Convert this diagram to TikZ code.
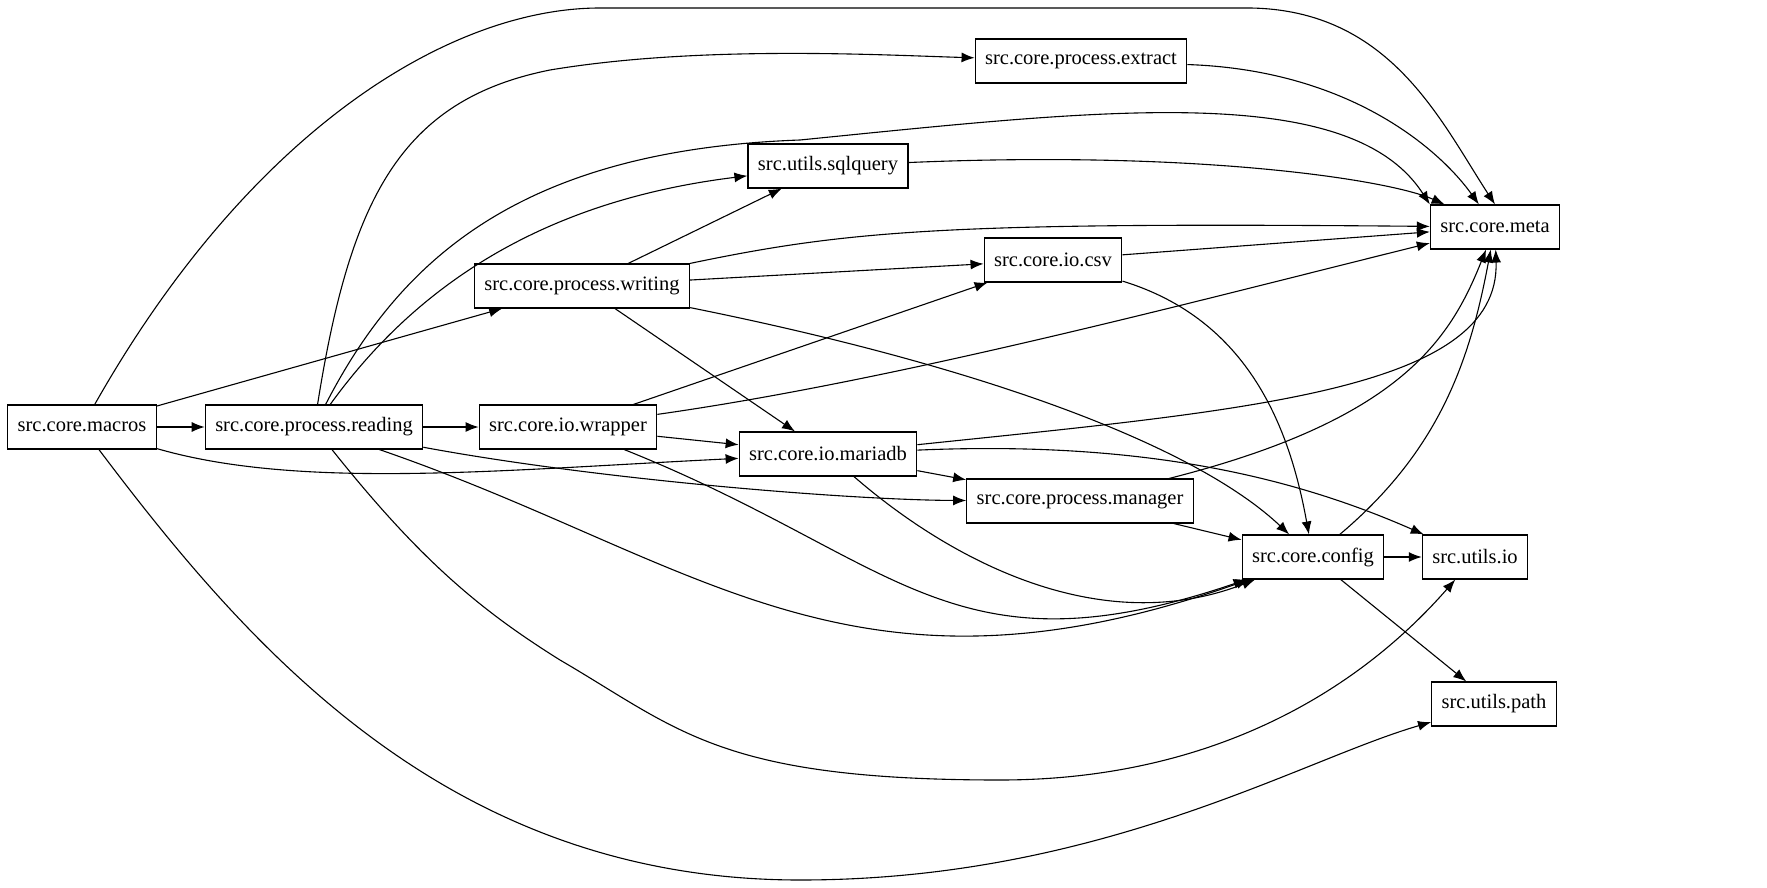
\documentclass[tikz,border=0pt]{standalone}
\usepackage{fontspec}
\setmainfont{Liberation Serif}
\usetikzlibrary{arrows.meta, positioning}

\begin{document}
\begin{tikzpicture}[
		x=1pt, y=-1pt,
		mod/.style={draw, line width=1.1pt, minimum height=44pt, inner xsep=10pt,
				font=\fontsize{20.5}{22}\selectfont},
		dep/.style={line width=1.1pt, -{Latex[length=13pt,width=10pt]}}
	]
	\useasboundingbox (0,0) rectangle (1767,888);

	\node[mod] (macros) at (82,427) {src.core.macros};
	\node[mod] (reading) at (314,427) {src.core.process.reading};
	\node[mod] (wrapper) at (568,427) {src.core.io.wrapper};
	\node[mod] (writing) at (582,286) {src.core.process.writing};
	\node[mod] (sqlquery) at (828,166) {src.utils.sqlquery};
	\node[mod] (extract) at (1081,61) {src.core.process.extract};
	\node[mod] (csv) at (1053,260) {src.core.io.csv};
	\node[mod] (mariadb) at (828,454) {src.core.io.mariadb};
	\node[mod] (manager) at (1080,501) {src.core.process.manager};
	\node[mod] (config) at (1313,557) {src.core.config};
	\node[mod] (meta) at (1495,227) {src.core.meta};
	\node[mod] (io) at (1475,557) {src.utils.io};
	\node[mod] (path) at (1494,704) {src.utils.path};

	% macros
	\draw[dep] (macros) .. controls (250,130) and (450,8) .. (600,8)
		-- (1250,8) .. controls (1390,10) and (1440,120) .. (meta.north);
	\draw[dep] (macros) -- (reading);
	\draw[dep] (macros) -- (writing);
	\draw[dep] (macros) .. controls (300,490) and (500,470) .. (mariadb);
	\draw[dep] (macros) .. controls (250,650) and (450,880) .. (800,880)
		.. controls (1100,880) and (1300,760) .. (path);

	% reading
	\draw[dep] (reading) .. controls (350,200) and (400,100) .. (550,70)
		.. controls (700,45) and (880,55) .. (extract);
	\draw[dep] (reading) .. controls (400,260) and (520,150) .. (800,140)
		.. controls (1100,110) and (1350,80) .. (meta.north west);
	\draw[dep] (reading) .. controls (420,280) and (550,200) .. (sqlquery);
	\draw[dep] (reading) -- (wrapper);
	\draw[dep] (reading) .. controls (600,480) and (850,500) .. (manager);
	\draw[dep] (reading) .. controls (700,560) and (850,720) .. (config);
	\draw[dep] (reading) .. controls (420,560) and (480,610) .. (560,660)
		.. controls (680,730) and (720,780) .. (1000,780)
		.. controls (1200,780) and (1350,700) .. (io);

	% writing
	\draw[dep] (writing) -- (sqlquery);
	\draw[dep] (writing) .. controls (850,230) and (950,222) .. (meta);
	\draw[dep] (writing) -- (csv);
	\draw[dep] (writing) -- (mariadb);
	\draw[dep] (writing) .. controls (1000,370) and (1200,450) .. (config);

	% wrapper
	\draw[dep] (wrapper) -- (csv);
	\draw[dep] (wrapper) .. controls (900,380) and (1200,300) .. (meta);
	\draw[dep] (wrapper) -- (mariadb);
	\draw[dep] (wrapper) .. controls (900,560) and (950,680) .. (config);

	% mariadb
	\draw[dep] (mariadb) .. controls (1250,410) and (1500,390) .. (meta);
	\draw[dep] (mariadb) .. controls (1150,440) and (1300,480) .. (io);
	\draw[dep] (mariadb) -- (manager);
	\draw[dep] (mariadb) .. controls (950,560) and (1100,640) .. (config);

	% the rest
	\draw[dep] (extract) .. controls (1350,70) and (1440,150) .. (meta);
	\draw[dep] (sqlquery) .. controls (1200,150) and (1390,180) .. (meta);
	\draw[dep] (csv) -- (meta);
	\draw[dep] (csv) .. controls (1250,320) and (1290,430) .. (config);
	\draw[dep] (manager) .. controls (1400,420) and (1450,340) .. (meta);
	\draw[dep] (manager) -- (config);
	\draw[dep] (config) .. controls (1440,450) and (1470,360) .. (meta);
	\draw[dep] (config) -- (io);
	\draw[dep] (config) -- (path);
\end{tikzpicture}
\end{document}
